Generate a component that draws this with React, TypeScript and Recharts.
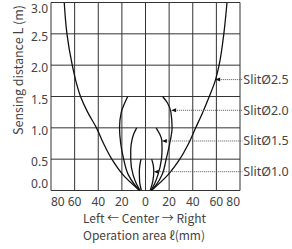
import React from 'react';
import { LineChart, Line, XAxis, YAxis, CartesianGrid, ReferenceLine } from 'recharts';

// Sensing distance L (m) at which each branch is sampled
const levels25 = [0, 0.25, 0.5, 0.75, 1.0, 1.25, 1.5, 1.75, 2.0, 2.5, 3.0];
const slit25Left = [-5, -19, -28.5, -35.5, -41.5, -49, -55, -59, -62, -66.5, -68.8];
const slit25Right = [5, 19, 29, 36.5, 42.5, 48.5, 54, 59, 62.3, 66.3, 69];

const levels20 = [0, 0.1, 0.25, 0.5, 0.75, 1.0, 1.25, 1.4, 1.5];
const slit20Left = [-5, -9.5, -14.5, -18.5, -21, -22, -20.5, -17.5, -15];
const slit20Right = [5, 9.5, 14, 17.5, 20.5, 22.5, 21.5, 18.5, 14.5];

const levels15 = [0, 0.1, 0.25, 0.5, 0.65, 0.8, 0.9, 1.0];
const slit15Left = [-4.5, -7.5, -10.5, -12.5, -12.5, -11.5, -10, -7.5];
const slit15Right = [4.5, 7.5, 10.5, 13.5, 14, 13.8, 12, 9];

const levels10 = [0, 0.15, 0.3, 0.4, 0.5];
const slit10Left = [-3.5, -5, -5.2, -4.8, -3.8];
const slit10Right = [4, 6.2, 7, 6.6, 5.2];

// callouts: label, point on curve (x mm, L m)
const slitNames = ['SlitØ2.5', 'SlitØ2.0', 'SlitØ1.5', 'SlitØ1.0'];
const calloutX = [59, 21.7, 13.8, 7];
const calloutL = [1.77, 1.28, 0.79, 0.3];

const xTicks = [-80, -60, -40, -20, 0, 20, 40, 60, 80];
const yTicks = [0, 0.5, 1.0, 1.5, 2.0, 2.5, 3.0];

const FONT = "'Noto Sans CJK JP', 'Noto Sans', sans-serif";
const NUM_FONT = "'Noto Sans', sans-serif";
const TEXT = '#444';
const INK = '#111';

const toPoints = (levels: number[], xs: number[]) => levels.map((L, i) => ({ L, x: xs[i] }));

const branches = [
    toPoints(levels25, slit25Left),
    toPoints(levels25, slit25Right),
    toPoints(levels20, slit20Left),
    toPoints(levels20, slit20Right),
    toPoints(levels15, slit15Left),
    toPoints(levels15, slit15Right),
    toPoints(levels10, slit10Left),
    toPoints(levels10, slit10Right),
];

const XTick = (props: any) => {
    const { x, y, payload } = props;
    const v = payload.value;
    const anchor = v === -80 ? 'start' : v === 80 ? 'end' : 'middle';
    return (
        <text x={x} y={y} dy={15} textAnchor={anchor} fontSize={12} fill={TEXT} fontFamily={NUM_FONT}>
            {Math.abs(v)}
        </text>
    );
};

const YTick = (props: any) => {
    const { x, y, payload } = props;
    const v = payload.value;
    const dy = v === 3 ? 10.5 : v === 0 ? -2.5 : 7;
    return (
        <text x={x} y={y} dy={dy} textAnchor="end" fontSize={12} fill={TEXT} fontFamily={NUM_FONT}>
            {v.toFixed(1)}
        </text>
    );
};

const Callout = (name: string) => (p: any) => {
    const { x1, y1, x2 } = p;
    return (
        <g>
            <line x1={x1 + 4} y1={y1} x2={x2} y2={y1} stroke="#555" strokeWidth={1} strokeDasharray="1 1" />
            <path d={`M${x1},${y1} L${x1 + 5},${y1 - 2} L${x1 + 5},${y1 + 2} Z`} fill={INK} />
            <text x={x2 + 1} y={y1} dy={4.3} fontSize={12.5} fill={TEXT} fontFamily={NUM_FONT}>
                {name}
            </text>
        </g>
    );
};

const XTitle = () => (
    <g fontFamily={FONT} fontSize={12} fill={TEXT}>
        <text x={83} y={222.7}>Left ← Center → Right</text>
        <text x={83} y={240.2}>Operation area ℓ(mm)</text>
    </g>
);

const YTitle = () => (
    <text
        x={23}
        y={70}
        transform="rotate(-90, 23, 70)"
        textAnchor="middle"
        fontFamily={FONT}
        fontSize={12.5}
        fill={TEXT}
    >
        Sensing distance L (m)
    </text>
);

export default function App() {
    return (
        <div style={{ position: 'absolute', left: 0, top: 0, width: 292, height: 249, background: '#fff' }}>
            <LineChart
                layout="vertical"
                width={292}
                height={249}
                margin={{ top: 2.5, right: 52, bottom: 38.5, left: 0 }}
            >
                <CartesianGrid stroke="#333" strokeWidth={1} />
                <XAxis
                    type="number"
                    dataKey="x"
                    domain={[-80, 80]}
                    ticks={xTicks}
                    interval={0}
                    allowDataOverflow
                    axisLine={false}
                    tickLine={false}
                    tickSize={0}
                    tickMargin={0}
                    height={20}
                    tick={<XTick />}
                    label={{ content: <XTitle /> }}
                />
                <YAxis
                    type="number"
                    dataKey="L"
                    domain={[0, 3]}
                    ticks={yTicks}
                    interval={0}
                    reversed
                    allowDataOverflow
                    axisLine={false}
                    tickLine={false}
                    tickSize={0}
                    tickMargin={3}
                    width={51}
                    tick={<YTick />}
                    label={{ content: <YTitle /> }}
                />
                {branches.map((pts, i) => (
                    <Line
                        key={i}
                        data={pts}
                        dataKey="x"
                        type="monotone"
                        stroke={INK}
                        strokeWidth={1.3}
                        dot={false}
                        activeDot={false}
                        isAnimationActive={false}
                    />
                ))}
                {slitNames.map((name, i) => (
                    <ReferenceLine
                        key={name}
                        segment={[
                            { x: calloutX[i], y: calloutL[i] },
                            { x: 82, y: calloutL[i] },
                        ]}
                        ifOverflow="visible"
                        shape={Callout(name)}
                    />
                ))}
            </LineChart>
        </div>
    );
}
